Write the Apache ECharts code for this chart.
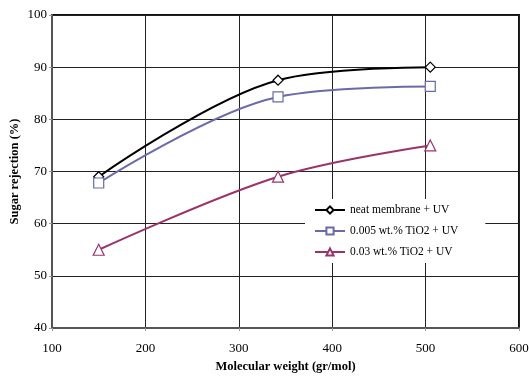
<!DOCTYPE html>
<html>
<head>
<meta charset="utf-8">
<script src="https://cdn.jsdelivr.net/npm/echarts@6/dist/echarts.min.js"></script>
<style>
  html, body { margin: 0; padding: 0; background: #fff; }
  #chart { width: 529px; height: 377px; }
</style>
</head>
<body>
<div id="chart"></div>
<script>
// Molecular weight of the sugars (gr/mol)
const molecularWeight = [150, 342, 505];
// Sugar rejection (%) for each membrane under UV
const neatUV = [69, 87.5, 90];
const tio2Low = [67.8, 84.3, 86.3];
const tio2High = [55, 69, 75];
const seriesNames = ['neat membrane + UV', '0.005 wt.% TiO2 + UV', '0.03 wt.% TiO2 + UV'];

const serif = '"Liberation Serif", "Times New Roman", serif';

function pairs(ys) {
  return molecularWeight.map((x, i) => [x, ys[i]]);
}

function lineSeries(name, ys, color, symbol, size) {
  return {
    name: name,
    type: 'line',
    data: pairs(ys),
    smooth: 0.35,
    symbol: symbol,
    symbolSize: size,
    showAllSymbol: true,
    lineStyle: { color: color, width: 2 },
    itemStyle: { color: '#ffffff', borderColor: color, borderWidth: 1.2 },
    emphasis: { disabled: true },
    z: 3
  };
}

const chart = echarts.init(document.getElementById('chart'), null, { renderer: 'canvas' });
chart.setOption({
  animation: false,
  backgroundColor: '#ffffff',
  grid: {
    left: 52, right: 10, top: 15, bottom: 49,
    containLabel: false,
    outerBoundsMode: 'none',
    show: true,
    borderColor: '#111111',
    borderWidth: 2,
    backgroundColor: 'transparent'
  },
  legend: {
    orient: 'vertical',
    left: 305,
    top: 199,
    backgroundColor: '#ffffff',
    padding: [5, 27, 5, 9],
    itemWidth: 30,
    itemHeight: 9,
    itemGap: 9,
    textStyle: { fontFamily: serif, fontSize: 11.5, color: '#000' },
    data: seriesNames
  },
  xAxis: {
    type: 'value',
    min: 100, max: 600, interval: 100,
    name: 'Molecular weight (gr/mol)',
    nameLocation: 'middle',
    nameGap: 32,
    nameMoveOverlap: false,
    nameTextStyle: { fontFamily: serif, fontSize: 12.5, fontWeight: 'bold', color: '#000' },
    axisLine: { show: true, onZero: false, lineStyle: { color: '#555555', width: 2 } },
    axisTick: { show: true, length: 3, lineStyle: { color: '#999' } },
    axisLabel: { fontFamily: serif, fontSize: 13, color: '#000', margin: 14 },
    splitLine: { show: true, lineStyle: { color: '#222222', width: 1 } }
  },
  yAxis: {
    type: 'value',
    min: 40, max: 100, interval: 10,
    name: 'Sugar rejection (%)',
    nameLocation: 'middle',
    nameGap: 31,
    nameMoveOverlap: false,
    nameTextStyle: { fontFamily: serif, fontSize: 12.5, fontWeight: 'bold', color: '#000' },
    axisLine: { show: true, onZero: false, lineStyle: { color: '#555555', width: 2 } },
    axisTick: { show: true, length: 3, lineStyle: { color: '#999' } },
    axisLabel: { fontFamily: serif, fontSize: 13, color: '#000', margin: 5 },
    splitLine: { show: true, lineStyle: { color: '#222222', width: 1 } }
  },
  series: [
    lineSeries(seriesNames[0], neatUV, '#000000', 'diamond', 10),
    lineSeries(seriesNames[1], tio2Low, '#6a6aa8', 'rect', 10),
    lineSeries(seriesNames[2], tio2High, '#9b3369', 'triangle', 11)
  ]
});
</script>
</body>
</html>
